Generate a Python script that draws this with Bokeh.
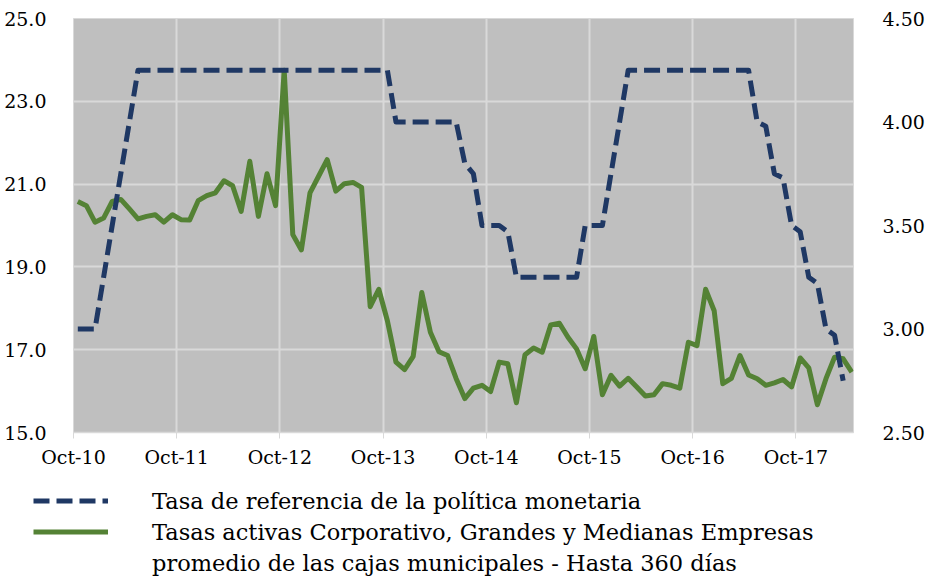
from bokeh.plotting import figure
from bokeh.layouts import column
from bokeh.models import (Range1d, LinearAxis, FixedTicker, NumeralTickFormatter,
                          Legend, LegendItem)
from bokeh.embed import file_html
from bokeh.resources import INLINE

# ---- data (monthly, Oct-2010 = month 0) ----
tick_labels = ["Oct-10", "Oct-11", "Oct-12", "Oct-13", "Oct-14", "Oct-15", "Oct-16", "Oct-17"]

tasa_activa = [
    20.58, 20.48, 20.08, 20.18, 20.58, 20.63, 20.40, 20.16, 20.22, 20.26,
    20.08, 20.26, 20.14, 20.13, 20.60, 20.72, 20.79, 21.08, 20.96, 20.34,
    21.55, 20.22, 21.25, 20.48, 23.75, 19.78, 19.41, 20.79, 21.19, 21.59,
    20.83, 21.01, 21.04, 20.92, 18.04, 18.46, 17.70, 16.70, 16.52, 16.84,
    18.38, 17.42, 16.95, 16.86, 16.30, 15.82, 16.07, 16.14, 15.99, 16.70,
    16.66, 15.72, 16.88, 17.04, 16.94, 17.60, 17.64, 17.30, 17.02, 16.54,
    17.32, 15.91, 16.38, 16.12, 16.31, 16.10, 15.88, 15.91, 16.18, 16.14,
    16.07, 17.18, 17.10, 18.46, 17.94, 16.18, 16.31, 16.86, 16.39, 16.30,
    16.14, 16.20, 16.28, 16.10, 16.80, 16.56, 15.67, 16.30, 16.82, 16.78,
    16.46,
]

tasa_referencia = [
    3.00, 3.00, 3.00, 3.25, 3.50, 3.75, 4.00, 4.25, 4.25, 4.25,
    4.25, 4.25, 4.25, 4.25, 4.25, 4.25, 4.25, 4.25, 4.25, 4.25,
    4.25, 4.25, 4.25, 4.25, 4.25, 4.25, 4.25, 4.25, 4.25, 4.25,
    4.25, 4.25, 4.25, 4.25, 4.25, 4.25, 4.25, 4.00, 4.00, 4.00,
    4.00, 4.00, 4.00, 4.00, 4.00, 3.80, 3.75, 3.50, 3.50, 3.50,
    3.47, 3.25, 3.25, 3.25, 3.25, 3.25, 3.25, 3.25, 3.25, 3.50,
    3.50, 3.50, 3.75, 4.00, 4.25, 4.25, 4.25, 4.25, 4.25, 4.25,
    4.25, 4.25, 4.25, 4.25, 4.25, 4.25, 4.25, 4.25, 4.25, 4.00,
    3.98, 3.75, 3.73, 3.50, 3.47, 3.25, 3.22, 3.00, 2.97, 2.75,
]

label_ref = "Tasa de referencia de la política monetaria"
label_act_1 = "Tasas activas Corporativo, Grandes y Medianas Empresas"
label_act_2 = "promedio de las cajas municipales - Hasta 360 días"

# points sit in the middle of each monthly slot
x_act = [i + 0.5 for i in range(len(tasa_activa))]
x_ref = [i + 0.5 for i in range(len(tasa_referencia))]
tick_pos = [12 * i for i in range(len(tick_labels))]

FONT = "DejaVu Serif"
GRID = "#D9D9D9"
GREEN = "#548235"
NAVY = "#1F3864"

p = figure(width=927, height=470, output_backend="svg", toolbar_location=None,
           x_range=Range1d(0, 90.7), y_range=Range1d(15, 25),
           min_border_left=73, min_border_right=69, min_border_top=18,
           min_border_bottom=36)
p.frame_align = False
p.background_fill_color = "#BFBFBF"
p.border_fill_color = "white"
p.outline_line_color = GRID
p.outline_line_width = 1

p.extra_y_ranges = {"ref": Range1d(2.5, 4.5)}

# x axis
xa = p.xaxis[0]
xa.ticker = FixedTicker(ticks=tick_pos)
xa.major_label_overrides = {t: l for t, l in zip(tick_pos, tick_labels)}
xa.minor_tick_line_color = None
xa.major_tick_in = 0
xa.major_tick_out = 6
xa.major_tick_line_color = GRID
xa.axis_line_color = GRID
xa.axis_line_width = 1.5
xa.major_label_standoff = 7
xa.major_label_text_font = FONT
xa.major_label_text_font_size = "19px"
xa.major_label_text_color = "black"

# left axis
ya = p.yaxis[0]
ya.ticker = FixedTicker(ticks=[15, 17, 19, 21, 23, 25])
ya.formatter = NumeralTickFormatter(format="0.0")
ya.axis_line_color = None
ya.major_tick_line_color = None
ya.minor_tick_line_color = None
ya.major_label_standoff = 21
ya.major_label_text_font = FONT
ya.major_label_text_font_size = "19px"
ya.major_label_text_color = "black"

# right axis
ra = LinearAxis(y_range_name="ref", ticker=FixedTicker(ticks=[2.5, 3.0, 3.5, 4.0, 4.5]),
                formatter=NumeralTickFormatter(format="0.00"))
ra.axis_line_color = None
ra.major_tick_line_color = None
ra.minor_tick_line_color = None
ra.major_label_standoff = 23
ra.major_label_text_font = FONT
ra.major_label_text_font_size = "19px"
ra.major_label_text_color = "black"
p.add_layout(ra, "right")

p.xgrid.ticker = FixedTicker(ticks=tick_pos)
p.xgrid.grid_line_color = GRID
p.xgrid.grid_line_width = 2
p.ygrid.grid_line_color = GRID
p.ygrid.grid_line_width = 2

p.line(x_act, tasa_activa, line_color=GREEN, line_width=5, line_join="round")
p.line(x_ref, tasa_referencia, y_range_name="ref", line_color=NAVY,
       line_width=5, line_dash="16 7", line_join="round")

# ---- legend panel below the chart ----
# proxies reuse the series but the (0..1) ranges keep them out of view;
# they only supply the legend swatches
leg = figure(width=927, height=110, output_backend="svg", toolbar_location=None,
             x_range=Range1d(0, 1), y_range=Range1d(0, 1),
             x_axis_type=None, y_axis_type=None,
             min_border_left=33, min_border_right=0, min_border_top=15, min_border_bottom=0)
leg.frame_align = False
leg.grid.visible = False
leg.outline_line_color = None
leg.background_fill_color = "white"
leg.border_fill_color = "white"

s_ref = leg.line(x_ref, tasa_referencia, line_color=NAVY, line_width=5, line_dash="16 7")
s_act = leg.line(x_act, tasa_activa, line_color=GREEN, line_width=5)
s_blank = leg.line(x_act, tasa_activa, line_alpha=0)

legend = Legend(items=[LegendItem(label=label_ref, renderers=[s_ref]),
                       LegendItem(label=label_act_1, renderers=[s_act]),
                       LegendItem(label=label_act_2, renderers=[s_blank])],
                location="top_left", orientation="vertical",
                glyph_width=75, glyph_height=31, label_height=31, spacing=0,
                label_standoff=44, padding=0, margin=0,
                border_line_alpha=0, background_fill_alpha=0,
                label_text_font=FONT, label_text_font_size="22.5px",
                label_text_color="black")
leg.add_layout(legend, "center")

layout = column(p, leg, spacing=0)
open("out.html", "w").write(file_html(layout, INLINE))
